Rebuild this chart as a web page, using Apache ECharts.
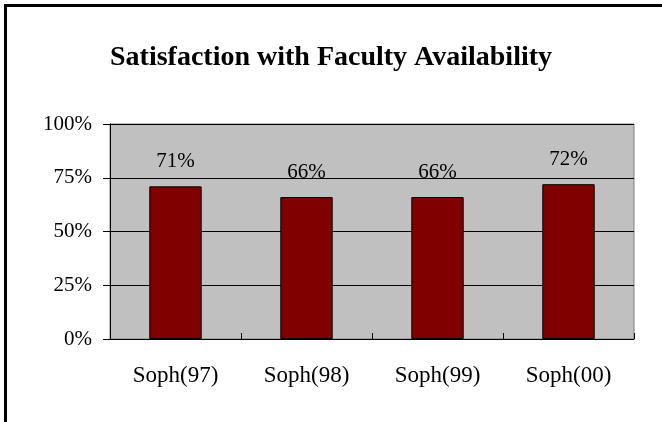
<!DOCTYPE html>
<html>
<head>
<meta charset="utf-8">
<script src="https://cdn.jsdelivr.net/npm/echarts@6/dist/echarts.min.js"></script>
<style>
  html, body { margin: 0; padding: 0; background: #fff; }
  #chart { width: 662px; height: 422px; }
</style>
</head>
<body>
<div id="chart"></div>
<script>
const categories = ['Soph(97)', 'Soph(98)', 'Soph(99)', 'Soph(00)'];
const satisfaction = [71, 66, 66, 72];
const yTicks = [0, 25, 50, 75, 100];

const chart = echarts.init(document.getElementById('chart'));
const serif = '"Liberation Serif", "DejaVu Serif", serif';

chart.setOption({
    backgroundColor: '#fff',
    textStyle: { fontFamily: serif },
    title: {
        text: 'Satisfaction with Faculty Availability',
        left: 'center',
        top: 39,
        textStyle: { fontFamily: serif, fontSize: 28, fontWeight: 'bold', color: '#000' }
    },
    graphic: [
        // frame around the chart (left and top edges only visible)
        { type: 'rect', shape: { x: 4, y: 4, width: 3, height: 418 }, style: { fill: '#000' } },
        { type: 'rect', shape: { x: 4, y: 4, width: 658, height: 3 }, style: { fill: '#000' } }
    ],
    grid: {
        left: 110, top: 124, width: 524, height: 215,
        show: true, backgroundColor: '#c0c0c0', borderColor: '#808080', borderWidth: 1
    },
    xAxis: {
        type: 'category',
        data: categories,
        axisLine: { lineStyle: { color: '#000', width: 1 } },
        axisTick: { show: true, length: 6, inside: true, lineStyle: { color: '#000' } },
        axisLabel: { color: '#000', fontSize: 23, fontFamily: serif, margin: 25 }
    },
    yAxis: {
        type: 'value',
        min: 0, max: 100, interval: 25,
        axisLine: { show: true, lineStyle: { color: '#000', width: 1 } },
        axisTick: { show: true, length: 7, lineStyle: { color: '#000' } },
        axisLabel: {
            color: '#000', fontSize: 21, fontFamily: serif, margin: 18,
            formatter: function (v) { return yTicks.indexOf(v) >= 0 ? v + '%' : ''; }
        },
        splitLine: { lineStyle: { color: '#000', width: 1 } }
    },
    series: [{
        type: 'bar',
        data: satisfaction,
        barWidth: '40%',
        itemStyle: { color: '#800000', borderColor: '#000', borderWidth: 1 },
        label: {
            show: true, position: 'top', distance: 14,
            color: '#000', fontSize: 21, fontFamily: serif,
            formatter: '{c}%'
        }
    }]
});
</script>
</body>
</html>
